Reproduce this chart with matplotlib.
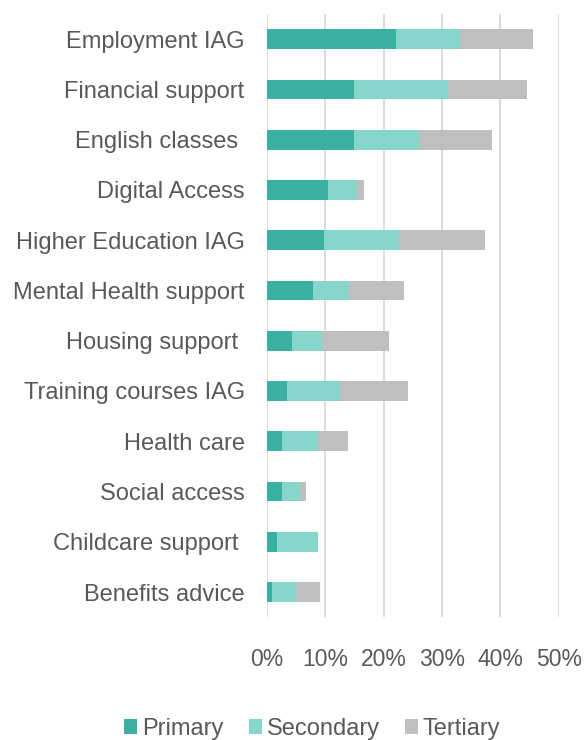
import matplotlib.pyplot as plt
from matplotlib.ticker import PercentFormatter

plt.rcParams['font.family'] = ['Liberation Sans', 'DejaVu Sans']

categories = [
    "Employment IAG", "Financial support", "English classes ", "Digital Access",
    "Higher Education IAG", "Mental Health support", "Housing support ",
    "Training courses IAG", "Health care", "Social access",
    "Childcare support ", "Benefits advice",
]
primary = [22.1, 14.9, 14.9, 10.5, 9.8, 7.9, 4.3, 3.5, 2.6, 2.6, 1.8, 0.9]
secondary = [11.0, 16.1, 11.2, 5.0, 12.9, 6.1, 5.1, 9.0, 6.1, 3.0, 7.0, 4.0]
tertiary = [12.5, 13.6, 12.4, 1.1, 14.7, 9.4, 11.5, 11.6, 5.2, 1.1, 0.0, 4.2]

colors = ["#3AB0A2", "#86D6CC", "#BFBFBF"]
text_color = "#595959"

fig = plt.figure(figsize=(5.84, 7.40), dpi=100)
ax = fig.add_axes([0.457, 0.166, 0.5, 0.815])

y = range(len(categories))
left = [0.0] * len(categories)
for vals, name, c in zip([primary, secondary, tertiary],
                         ["Primary", "Secondary", "Tertiary"], colors):
    ax.barh(y, vals, left=left, height=0.39, color=c, label=name, zorder=3)
    left = [a + b for a, b in zip(left, vals)]

ax.set_xlim(0, 50)
ax.set_ylim(len(categories) - 0.5, -0.5)
ax.set_xticks(range(0, 51, 10))
ax.xaxis.set_major_formatter(PercentFormatter(decimals=0))
ax.set_yticks(list(y))
ax.set_yticklabels(categories)

ax.grid(axis="x", color="#D9D9D9", linewidth=1.3, zorder=0)
for s in ax.spines.values():
    s.set_visible(False)
ax.tick_params(axis="both", length=0, colors=text_color, labelsize=16.5)
ax.tick_params(axis="y", pad=16, labelsize=17)
ax.tick_params(axis="x", pad=22)

fig.legend(loc="center", bbox_to_anchor=(0.535, 0.015), ncol=3, frameon=False,
           fontsize=17, labelcolor=text_color, handlelength=0.55,
           handleheight=0.55, handletextpad=0.22, columnspacing=1.05)

fig.savefig("out.png", dpi=100)
